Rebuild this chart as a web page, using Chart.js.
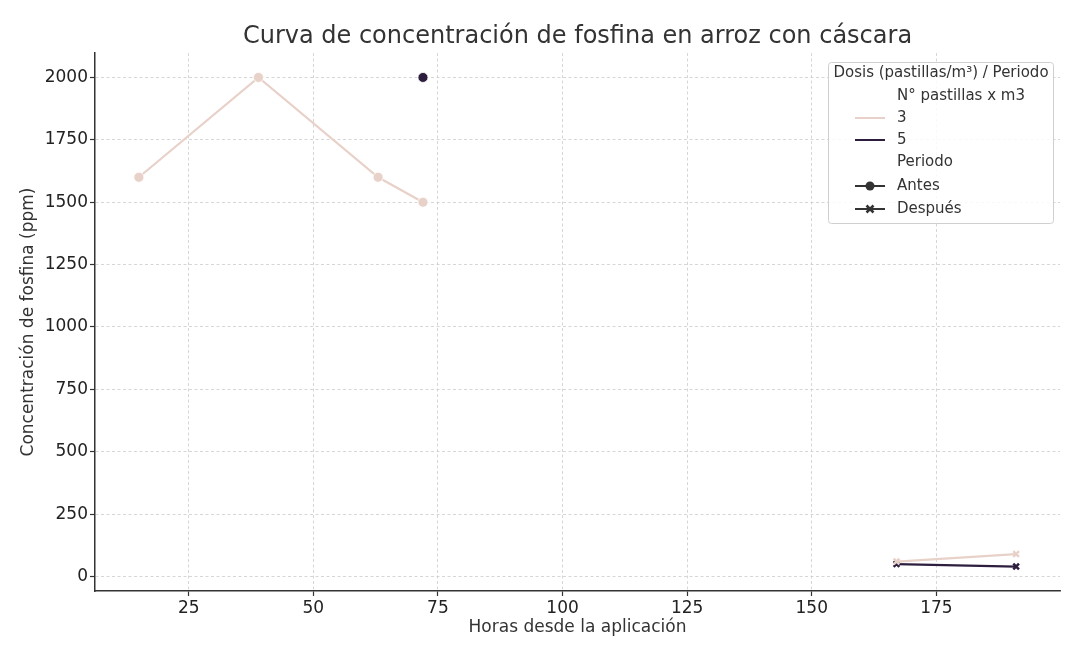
<!DOCTYPE html>
<html>
<head>
<meta charset="utf-8">
<script src="https://cdn.jsdelivr.net/npm/chart.js@4"></script>
<style>
  html, body { margin: 0; padding: 0; background: #fff; }
  #wrap { width: 1080px; height: 662px; }
</style>
</head>
<body>
<div id="wrap"><canvas id="chart"></canvas></div>
<script>
// horas desde la aplicación
var horasAntes = [15, 39, 63, 72];
var horasDespues = [167, 191];
// concentración de fosfina (ppm)
var dosis3Antes = [1600, 2000, 1600, 1500];
var dosis5Antes = [null, null, null, 2000];
var dosis3Despues = [60, 90];
var dosis5Despues = [50, 40];
var xTicks = [25, 50, 75, 100, 125, 150, 175];
var yTicks = [0, 250, 500, 750, 1000, 1250, 1500, 1750, 2000];

var COLOR_3 = '#e8d1c9';
var COLOR_5 = '#2d1e3e';
var FONT = 'DejaVu Sans';

function toPoints(xs, ys) {
  var pts = [];
  for (var i = 0; i < xs.length; i++) {
    if (ys[i] !== null) pts.push({ x: xs[i], y: ys[i] });
  }
  return pts;
}

function keepTicks(list) {
  return function(scale) {
    scale.ticks = list.map(function(v) { return { value: v }; });
  };
}

// title centred on the axes, like matplotlib does
var titlePlugin = {
  id: 'axesTitle',
  afterDraw: function(chart) {
    var ctx = chart.ctx, a = chart.chartArea;
    ctx.save();
    ctx.font = '24px "' + FONT + '"';
    ctx.fillStyle = '#333';
    ctx.textAlign = 'center';
    ctx.textBaseline = 'middle';
    ctx.fillText('Curva de concentración de fosfina en arroz con cáscara', (a.left + a.right) / 2, 37);
    ctx.restore();
  }
};

// seaborn style legend (hue + style sections)
var legendPlugin = {
  id: 'seabornLegend',
  afterDraw: function(chart) {
    var ctx = chart.ctx;
    var bx = 828, by = 62, bw = 225, bh = 161;
    ctx.save();
    ctx.fillStyle = 'rgba(255,255,255,0.85)';
    ctx.strokeStyle = '#cfcfcf';
    ctx.lineWidth = 1;
    ctx.beginPath();
    ctx.roundRect(bx + 0.5, by + 0.5, bw, bh, 3);
    ctx.fill();
    ctx.stroke();

    ctx.font = '15px "' + FONT + '"';
    ctx.fillStyle = '#333';
    ctx.textBaseline = 'middle';
    ctx.textAlign = 'center';
    ctx.fillText('Dosis (pastillas/m³) / Periodo', bx + bw / 2 + 0.5, 73);

    var rows = [
      { label: 'N° pastillas x m3', y: 96 },
      { label: '3', y: 118, color: COLOR_3 },
      { label: '5', y: 140, color: COLOR_5 },
      { label: 'Periodo', y: 162 },
      { label: 'Antes', y: 186, color: '#333', marker: 'circle' },
      { label: 'Después', y: 209, color: '#333', marker: 'x' }
    ];
    ctx.textAlign = 'left';
    rows.forEach(function(r) {
      ctx.fillStyle = '#333';
      ctx.fillText(r.label, 897, r.y);
      if (!r.color) return;
      ctx.strokeStyle = r.color;
      ctx.lineWidth = 2;
      ctx.beginPath();
      ctx.moveTo(855, r.y);
      ctx.lineTo(885, r.y);
      ctx.stroke();
      if (r.marker === 'circle') {
        ctx.fillStyle = r.color;
        ctx.beginPath();
        ctx.arc(870, r.y, 4.5, 0, Math.PI * 2);
        ctx.fill();
      } else if (r.marker === 'x') {
        ctx.lineWidth = 2.5;
        ctx.beginPath();
        ctx.moveTo(866.5, r.y - 3.5); ctx.lineTo(873.5, r.y + 3.5);
        ctx.moveTo(873.5, r.y - 3.5); ctx.lineTo(866.5, r.y + 3.5);
        ctx.stroke();
      }
    });
    ctx.restore();
  }
};

var ctx = document.getElementById('chart').getContext('2d');
new Chart(ctx, {
  type: 'line',
  data: {
    datasets: [
      {
        label: '3 Antes',
        data: toPoints(horasAntes, dosis3Antes),
        borderColor: COLOR_3, backgroundColor: COLOR_3,
        borderWidth: 2.2, pointStyle: 'circle', pointRadius: 5,
        pointBorderColor: '#fff', pointBorderWidth: 0.8
      },
      {
        label: '5 Antes',
        data: toPoints(horasAntes, dosis5Antes),
        borderColor: COLOR_5, backgroundColor: COLOR_5,
        borderWidth: 2.2, pointStyle: 'circle', pointRadius: 5,
        pointBorderColor: '#fff', pointBorderWidth: 0.8
      },
      {
        label: '3 Después',
        data: toPoints(horasDespues, dosis3Despues),
        borderColor: COLOR_3, backgroundColor: COLOR_3,
        borderWidth: 2.2, pointStyle: 'crossRot', pointRadius: 4,
        pointBorderColor: COLOR_3, pointBorderWidth: 2.5
      },
      {
        label: '5 Después',
        data: toPoints(horasDespues, dosis5Despues),
        borderColor: COLOR_5, backgroundColor: COLOR_5,
        borderWidth: 2.2, pointStyle: 'crossRot', pointRadius: 4,
        pointBorderColor: COLOR_5, pointBorderWidth: 2.5
      }
    ]
  },
  options: {
    responsive: true,
    maintainAspectRatio: false,
    animation: false,
    layout: { padding: { top: 53, right: 20, left: 0, bottom: 0 } },
    plugins: {
      legend: { display: false },
      title: { display: false },
      tooltip: { enabled: false }
    },
    scales: {
      x: {
        type: 'linear',
        min: 6.2, max: 199.8,
        afterBuildTicks: keepTicks(xTicks),
        afterFit: function(s) { s.height = 71; },
        border: { display: true, color: '#333', width: 1.5, dash: [3, 2.5] },
        grid: { color: '#cccccc', lineWidth: 0.8, tickColor: '#333', tickLength: 5, tickWidth: 1.2 },
        ticks: { color: '#222', font: { family: FONT, size: 17 }, padding: 2, maxRotation: 0,
                 callback: function(v) { return String(v); } },
        title: { display: true, text: 'Horas desde la aplicación', color: '#333',
                 font: { family: FONT, size: 17 }, padding: { top: 4, bottom: 24 } }
      },
      y: {
        type: 'linear',
        min: -58, max: 2098,
        afterBuildTicks: keepTicks(yTicks),
        afterFit: function(s) { s.width = 95; },
        border: { display: true, color: '#333', width: 1.5, dash: [3, 2.5] },
        grid: { color: '#cccccc', lineWidth: 0.8, tickColor: '#333', tickLength: 5, tickWidth: 1.2 },
        ticks: { color: '#222', font: { family: FONT, size: 17 }, padding: 2,
                 callback: function(v) { return String(v); } },
        title: { display: true, text: 'Concentración de fosfina (ppm)', color: '#333',
                 font: { family: FONT, size: 17 }, padding: { top: 18, bottom: 4 } }
      }
    }
  },
  plugins: [titlePlugin, legendPlugin]
});
</script>
</body>
</html>
